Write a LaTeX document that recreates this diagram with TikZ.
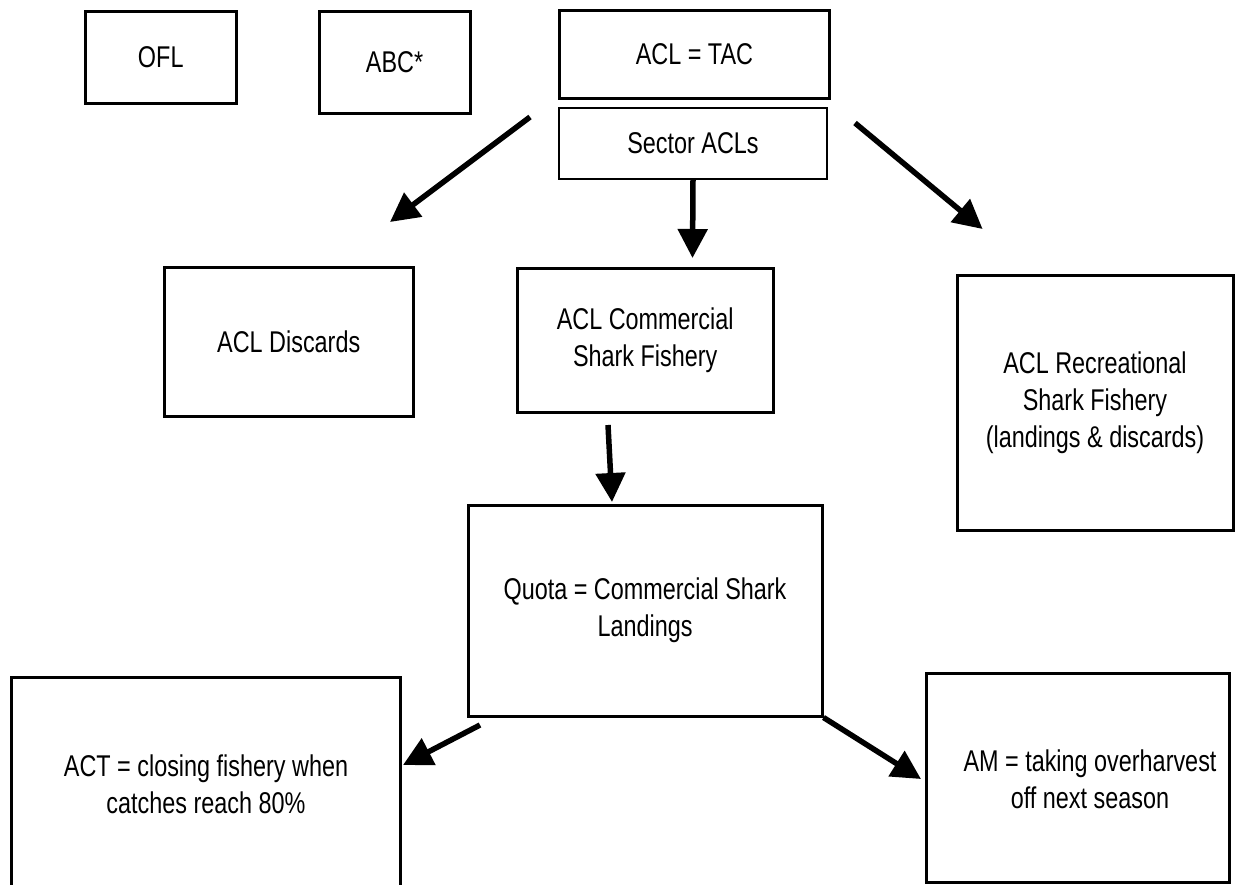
\documentclass[tikz,border=0pt]{standalone}
\usepackage{fontspec}
\setmainfont{Liberation Sans}[FakeStretch=0.78]
\usetikzlibrary{arrows.meta}
\tikzset{
  box/.style={draw=black, line width=3pt, rectangle, inner sep=0pt, align=center,
    font=\fontsize{30}{37}\selectfont},
  thinbox/.style={box, line width=1.2pt},
  txt/.style={inner sep=0pt, align=center, font=\fontsize{30}{37}\selectfont},
  bigarrow/.style={line width=5.5pt, -{Triangle[length=29pt,width=29pt]}},
}
\begin{document}
\begin{tikzpicture}[x=1pt,y=-1pt]
\useasboundingbox (0,0) rectangle (1255,884);
\clip (0,0) rectangle (1255,884);
\node[box, minimum width=151.5pt, minimum height=92pt] (ofl) at (160.75,57) {OFL};
\node[box, minimum width=151pt, minimum height=102pt] (abc) at (394.5,62) {ABC*};
\node[box, minimum width=270.7pt, minimum height=88pt] (tac) at (694.4,54) {ACL = TAC};
\node[thinbox, minimum width=268pt, minimum height=71pt] (sector) at (693,143.5) {Sector ACLs};
\node[box, minimum width=248.5pt, minimum height=149pt] (discards) at (288.75,341.5) {ACL Discards};
\node[box, minimum width=255.6pt, minimum height=144pt] (comm) at (645.2,340) {ACL Commercial\\Shark Fishery};
\node[box, minimum width=276pt, minimum height=255pt] (rec) at (1095,402.5) {ACL Recreational\\Shark Fishery\\(landings \& discards)};
\node[box, minimum width=354pt, minimum height=211pt] (quota) at (645,610.5) {Quota = Commercial Shark\\Landings};
\node[box, minimum width=389pt, minimum height=215pt] (act) at (206,784.5) {ACT = closing fishery when\\catches reach 80\%};
\node[box, minimum width=303pt, minimum height=209pt] (am) at (1077.5,777.5) {};
\node[txt] (amtext) at (1090,779) {AM = taking overharvest\\off next season};
% arrow end points
\coordinate (a1s) at (530,117);
\coordinate (a1e) at (390,222);
\coordinate (a2e) at (692.5,258);
\coordinate (a3s) at (855,123);
\coordinate (a3e) at (982.6,229);
\coordinate (a4s) at (608,425);
\coordinate (a4e) at (612,502);
\coordinate (a5s) at (480,725);
\coordinate (a5e) at (403,765);
\coordinate (a6e) at (921,779);
\draw[bigarrow] (a1s) -- (a1e);
\draw[bigarrow] (sector.south) -- (a2e);
\draw[bigarrow] (a3s) -- (a3e);
\draw[bigarrow] (a4s) -- (a4e);
\draw[bigarrow] (a5s) -- (a5e);
\draw[bigarrow] (quota.south east) -- (a6e);
\end{tikzpicture}
\end{document}
